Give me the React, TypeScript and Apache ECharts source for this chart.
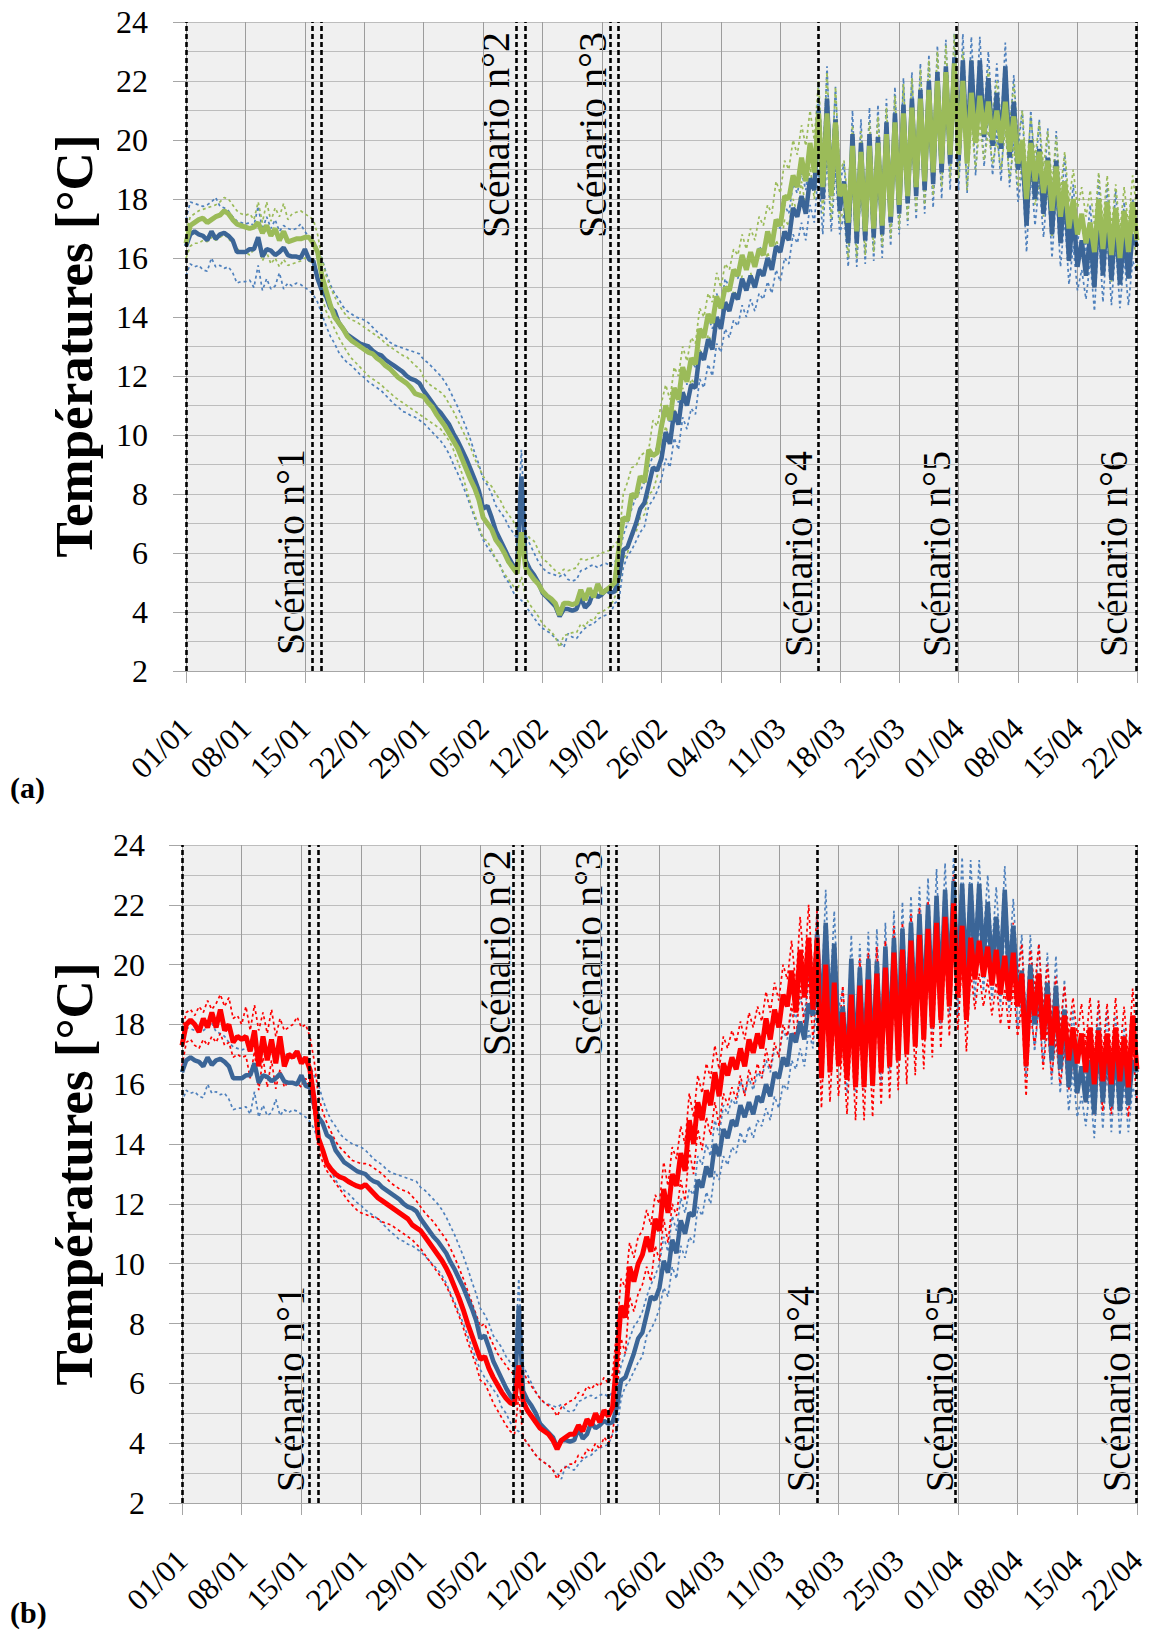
import React, { useEffect, useRef } from 'react';
import * as echarts from 'echarts';

// x axis: days since 01/01 (value axis, one tick per week)
const X_LABELS = ['01/01', '08/01', '15/01', '22/01', '29/01', '05/02', '12/02', '19/02', '26/02', '04/03', '11/03', '18/03', '25/03', '01/04', '08/04', '15/04', '22/04'];
const SCENARIO_DAYS = [0, 14.9, 15.95, 38.9, 39.95, 49.95, 50.95, 74.5, 90.75, 111.9];
const STEP = 0.5; // samples every half day (d = 0, 0.5, ... 112)

// Blue (reference) — mean, upper and lower envelopes (shared by both panels)
const BLUE_MEAN = [
  16.4, 16.8, 16.9, 16.8, 16.75, 16.6, 16.9, 16.65, 16.8, 16.85, 16.75, 16.6, 16.2, 16.2,
  16.2, 16.3, 16.3, 16.7, 16.05, 16.3, 16.25, 16.1, 16.2, 16.35, 16.1, 16.05, 16.05, 16.0,
  16.3, 15.95, 15.9, 15.3, 14.9, 14.7, 14.3, 14.2, 13.8, 13.6, 13.4, 13.3, 13.2, 13.1,
  13.05, 13.0, 12.85, 12.75, 12.7, 12.55, 12.45, 12.35, 12.25, 12.15, 12.0, 11.9, 11.85, 11.75,
  11.5, 11.3, 11.1, 10.9, 10.75, 10.55, 10.35, 10.05, 9.8, 9.5, 9.2, 8.85, 8.5, 8.1,
  7.5, 7.6, 7.2, 6.75, 6.45, 6.15, 5.85, 5.6, 5.4, 8.6, 5.75, 5.45, 5.25, 5.0,
  4.65, 4.5, 4.35, 4.2, 3.85, 4.1, 4.1, 4.05, 4.1, 4.5, 4.15, 4.3, 4.7, 4.5,
  4.6, 4.75, 4.65, 4.7, 5.2, 6.1, 6.2, 6.6, 7.0, 7.5, 7.7, 8.3, 8.9, 8.8,
  9.2, 10.1, 9.7, 10.8, 10.35, 11.45, 11.0, 11.7, 11.6, 12.8, 12.55, 13.25, 12.9, 14.0,
  13.6, 14.5, 14.2, 14.8, 14.6, 15.3, 14.9, 15.4, 15.0, 15.6, 15.4, 16.0, 15.6, 16.4,
  16.2, 16.9, 16.6, 17.7, 17.4, 18.1, 17.5, 18.7, 18.3, 21.0, 18.0, 21.4, 18.1, 20.7,
  17.6, 18.6, 16.5, 20.2, 16.5, 19.9, 16.6, 20.2, 16.7, 20.1, 16.8, 20.6, 17.2, 20.9,
  17.5, 21.2, 17.85, 21.4, 18.1, 21.7, 18.3, 22.0, 18.5, 22.3, 18.9, 22.5, 19.2, 22.8,
  19.3, 22.7, 19.4, 22.7, 19.9, 22.7, 20.1, 22.1, 19.8, 21.6, 19.7, 22.5, 19.4, 21.3,
  19.0, 19.8, 17.1, 20.0, 18.0, 19.7, 17.5, 19.4, 16.8, 19.3, 16.5, 18.5, 15.9, 17.5,
  15.7, 16.6, 15.4, 16.8, 15.0, 17.9, 15.4, 17.6, 15.25, 17.4, 15.1, 16.9, 15.3, 16.8,
  16.4,
];
const BLUE_HIGH = [
  17.3, 17.9, 17.85, 17.8, 17.75, 17.8, 17.9, 18.05, 17.75, 17.7, 17.6, 17.4, 17.25, 17.2,
  17.15, 17.2, 17.1, 17.75, 16.95, 17.4, 17.0, 17.3, 16.9, 17.1, 17.0, 16.95, 17.0, 17.15,
  16.9, 16.7, 16.6, 16.3, 16.0, 15.5, 15.1, 14.8, 14.6, 14.35, 14.2, 14.1, 14.0, 13.95,
  13.9, 13.8, 13.65, 13.5, 13.4, 13.3, 13.15, 13.05, 13.0, 12.95, 12.9, 12.85, 12.8, 12.75,
  12.55, 12.45, 12.3, 12.15, 12.0, 11.8, 11.55, 11.25, 10.95, 10.6, 10.25, 9.85, 9.4, 9.0,
  8.5, 8.3, 8.0, 7.6, 7.4, 7.2, 6.9, 6.7, 6.5, 9.5, 6.6, 6.3, 6.0, 5.7,
  5.5, 5.35, 5.3, 5.25, 5.2, 5.3, 5.1, 5.05, 5.1, 5.4, 5.45, 5.55, 5.6, 5.5,
  5.6, 5.65, 5.55, 5.7, 5.9, 6.6, 7.0, 7.5, 7.9, 8.1, 8.4, 8.9, 9.3, 9.6,
  10.0, 10.9, 10.4, 11.6, 11.1, 12.2, 11.7, 12.5, 12.3, 13.6, 13.3, 14.0, 13.6, 14.8,
  14.3, 15.3, 15.0, 15.5, 15.3, 16.1, 15.7, 16.2, 15.8, 16.4, 16.2, 16.8, 16.4, 17.2,
  17.0, 17.8, 17.5, 18.5, 18.2, 18.9, 18.3, 19.6, 18.9, 21.8, 18.7, 22.5, 18.8, 21.8,
  18.5, 19.2, 17.2, 21.0, 17.2, 20.7, 17.3, 21.1, 17.4, 21.2, 17.6, 21.4, 17.9, 21.8,
  18.2, 22.1, 18.6, 22.3, 18.8, 22.6, 19.0, 22.9, 19.2, 23.2, 19.6, 23.4, 19.9, 23.6,
  20.0, 23.6, 20.1, 23.5, 20.6, 23.5, 20.8, 23.0, 20.5, 22.6, 20.4, 23.3, 20.1, 22.2,
  19.7, 21.0, 18.0, 21.0, 18.7, 20.7, 18.2, 20.4, 17.6, 20.3, 17.3, 19.5, 16.8, 18.5,
  16.5, 17.5, 16.2, 17.8, 15.8, 18.8, 16.1, 18.5, 16.0, 18.3, 15.8, 17.9, 16.0, 18.0,
  17.2,
];
const BLUE_LOW = [
  15.4, 15.8, 15.7, 15.75, 15.6, 15.55, 16.0, 15.7, 15.75, 15.65, 15.7, 15.5, 15.15, 15.2,
  15.2, 15.25, 15.0, 15.75, 14.9, 15.3, 14.95, 15.05, 15.5, 14.95, 15.15, 15.05, 15.15, 15.1,
  15.0, 14.9, 14.75, 14.5, 14.1, 13.7, 13.35, 13.1, 12.8, 12.6, 12.45, 12.35, 12.2, 12.05,
  11.95, 11.8, 11.7, 11.6, 11.5, 11.35, 11.2, 11.05, 10.95, 10.8, 10.75, 10.65, 10.6, 10.5,
  10.4, 10.25, 10.1, 9.95, 9.8, 9.6, 9.35, 9.0, 8.7, 8.35, 8.0, 7.6, 7.2, 6.8,
  6.45, 6.2, 6.0, 5.8, 5.6, 5.2, 5.0, 4.7, 4.45, 4.4, 4.2, 4.0, 3.8, 3.6,
  3.45, 3.35, 3.27, 3.1, 3.0, 2.8, 3.27, 3.15, 3.1, 3.3, 3.45, 3.55, 3.6, 3.75,
  3.84, 3.9, 3.95, 4.3, 4.4, 5.5, 5.9, 6.1, 6.4, 6.7, 6.9, 7.6, 7.8, 8.1,
  8.5, 9.2, 8.9, 9.9, 9.5, 10.6, 10.2, 10.9, 10.7, 11.9, 11.6, 12.4, 12.0, 13.1,
  12.8, 13.6, 13.3, 13.9, 13.7, 14.4, 14.0, 14.6, 14.2, 14.8, 14.6, 15.2, 14.8, 15.6,
  15.2, 16.0, 15.8, 16.8, 16.5, 17.2, 16.6, 17.8, 17.2, 19.0, 16.8, 19.5, 16.9, 19.0,
  16.8, 17.5, 15.7, 18.8, 15.7, 18.6, 15.8, 18.9, 15.9, 19.0, 16.0, 19.5, 16.4, 19.9,
  16.8, 20.2, 17.1, 20.4, 17.3, 20.8, 17.5, 21.0, 17.7, 21.3, 18.0, 21.6, 18.3, 21.9,
  18.3, 21.5, 18.2, 21.6, 18.8, 21.6, 19.1, 21.0, 18.8, 20.4, 18.6, 21.3, 18.4, 20.1,
  17.9, 19.0, 16.2, 19.0, 17.1, 18.6, 16.7, 18.5, 16.0, 18.2, 15.7, 17.4, 15.1, 16.4,
  14.9, 15.6, 14.6, 15.9, 14.2, 16.9, 14.5, 16.7, 14.4, 16.5, 14.3, 16.0, 14.4, 15.9,
  15.5,
];

// Green (panel a)
const GREEN_MEAN = [
  16.5, 17.1, 17.2, 17.3, 17.35, 17.2, 17.3, 17.4, 17.45, 17.6, 17.5, 17.3, 17.15, 17.1,
  17.05, 17.0, 17.05, 17.2, 16.85, 17.1, 16.75, 17.0, 16.6, 16.9, 16.55, 16.6, 16.65, 16.65,
  16.7, 16.7, 16.5, 16.2, 15.4, 14.9, 14.4, 14.0, 13.8, 13.6, 13.35, 13.2, 13.1, 13.0,
  12.9, 12.8, 12.75, 12.6, 12.5, 12.35, 12.25, 12.1, 11.95, 11.85, 11.75, 11.6, 11.4, 11.35,
  11.3, 11.1, 10.95, 10.7, 10.5, 10.3, 10.05, 9.8, 9.55, 9.2, 8.85, 8.5, 8.2, 7.8,
  7.2, 7.0, 6.8, 6.44, 6.25, 6.0, 5.7, 5.5, 5.3, 6.7, 5.5, 5.3, 5.1, 4.95,
  4.7, 4.55, 4.45, 4.3, 3.9, 4.3, 4.3, 4.25, 4.3, 4.75, 4.4, 4.8, 4.5, 4.95,
  4.63, 4.75, 4.86, 5.0, 6.2, 7.2, 7.1, 8.0, 7.9, 8.6, 8.4, 9.5, 9.3, 9.4,
  10.3, 11.0, 10.5, 11.6, 11.2, 12.3, 11.8, 12.6, 12.4, 13.6, 13.3, 14.1, 13.8, 14.7,
  14.3, 15.0, 14.9, 15.6, 15.4, 16.1, 15.6, 16.2, 15.7, 16.3, 16.1, 16.9, 16.4, 17.3,
  17.1, 18.1, 18.0, 18.8, 18.4, 19.4, 18.6, 19.9, 18.9, 20.9, 18.4, 20.9, 18.1, 20.6,
  18.1, 18.5, 17.2, 19.8, 16.9, 19.6, 16.9, 19.8, 17.0, 19.9, 17.1, 20.2, 17.4, 20.6,
  17.8, 20.9, 18.1, 21.1, 18.4, 21.4, 18.6, 21.7, 18.9, 22.0, 19.2, 22.3, 19.5, 22.6,
  19.5, 22.0, 19.2, 21.6, 19.9, 21.5, 20.2, 21.3, 20.0, 21.0, 19.9, 21.3, 19.6, 20.8,
  19.2, 20.0, 18.0, 19.9, 18.6, 19.6, 18.2, 19.3, 17.6, 19.1, 17.4, 18.6, 17.0, 18.0,
  16.8, 17.5, 16.5, 17.2, 16.2, 18.0, 16.3, 17.9, 16.1, 17.7, 16.0, 17.6, 16.2, 17.9,
  16.6,
];
const GREEN_HIGH = [
  16.9, 17.4, 17.5, 17.6, 17.65, 17.7, 17.75, 17.8, 17.9, 18.05, 18.0, 17.8, 17.6, 17.5,
  17.45, 17.5, 17.3, 17.9, 17.2, 17.9, 17.25, 17.7, 17.4, 17.85, 17.3, 17.5, 17.55, 17.6,
  17.5, 17.4, 17.3, 16.8, 16.0, 15.4, 15.0, 14.7, 14.4, 14.2, 14.0, 13.9, 13.85, 13.75,
  13.65, 13.55, 13.45, 13.35, 13.25, 13.1, 13.0, 12.9, 12.8, 12.7, 12.65, 12.5, 12.35, 12.25,
  11.95, 11.75, 11.65, 11.55, 11.45, 11.3, 11.05, 10.8, 10.5, 10.2, 9.9, 9.6, 9.2, 8.9,
  8.6, 8.4, 8.26, 8.0, 7.8, 7.5, 7.3, 7.1, 6.8, 7.4, 6.7, 6.5, 6.4, 6.1,
  5.8, 5.7, 5.55, 5.4, 5.3, 5.45, 5.4, 5.45, 5.5, 5.8, 5.75, 5.8, 5.85, 5.9,
  6.0, 6.05, 6.1, 6.3, 6.44, 8.0, 8.4, 8.9, 8.95, 9.3, 9.4, 9.5, 10.5, 10.3,
  11.1, 11.7, 11.2, 12.3, 12.0, 13.0, 12.5, 13.3, 13.1, 14.3, 14.0, 14.8, 14.5, 15.5,
  15.0, 15.8, 15.6, 16.3, 16.1, 16.8, 16.3, 17.0, 16.6, 17.4, 17.1, 17.8, 17.5, 18.6,
  18.2, 19.3, 19.0, 20.0, 19.5, 20.5, 19.8, 21.0, 20.0, 22.0, 19.3, 22.3, 19.0, 21.8,
  18.9, 19.3, 17.8, 20.5, 17.7, 20.3, 17.7, 20.6, 17.8, 20.8, 17.9, 21.1, 18.2, 21.5,
  18.6, 21.9, 18.9, 22.1, 19.2, 22.4, 19.4, 22.7, 19.7, 23.0, 20.0, 23.2, 20.3, 23.6,
  20.3, 23.0, 20.1, 22.7, 20.7, 22.5, 20.9, 22.4, 20.8, 22.0, 20.7, 22.3, 20.4, 21.9,
  20.0, 21.0, 18.9, 20.8, 19.4, 20.6, 19.1, 20.3, 18.5, 20.1, 18.3, 19.6, 17.9, 19.0,
  17.7, 18.4, 17.4, 18.3, 17.1, 18.9, 17.2, 18.8, 17.0, 18.5, 16.9, 18.4, 17.1, 18.8,
  17.6,
];
const GREEN_LOW = [
  16.0, 16.4, 16.5, 16.5, 16.6, 16.55, 16.7, 16.6, 16.7, 16.8, 16.65, 16.5, 16.3, 16.25,
  16.2, 16.1, 16.3, 16.5, 15.9, 16.2, 15.8, 16.0, 15.7, 15.95, 15.75, 15.8, 15.85, 15.9,
  16.0, 15.9, 15.8, 15.5, 14.7, 14.2, 13.9, 13.6, 13.3, 13.05, 12.8, 12.6, 12.45, 12.3,
  12.15, 12.0, 11.9, 11.8, 11.7, 11.55, 11.45, 11.3, 11.2, 11.1, 11.0, 10.9, 10.8, 10.7,
  10.6, 10.5, 10.4, 10.3, 10.2, 10.0, 9.8, 9.5, 9.1, 8.7, 8.2, 7.7, 7.3, 6.9,
  6.5, 6.4, 6.1, 5.8, 5.55, 5.3, 5.1, 4.9, 4.7, 5.2, 4.5, 4.25, 4.05, 3.85,
  3.6, 3.45, 3.35, 3.15, 2.8, 3.2, 3.25, 3.3, 3.3, 3.6, 3.5, 3.75, 3.7, 3.95,
  4.0, 4.1, 4.2, 4.5, 4.9, 5.8, 6.0, 6.6, 6.7, 7.2, 7.3, 8.0, 8.1, 8.6,
  9.6, 10.3, 9.8, 10.9, 10.5, 11.6, 11.1, 11.9, 11.7, 12.9, 12.6, 13.4, 13.1, 14.0,
  13.6, 14.3, 14.2, 14.9, 14.7, 15.4, 14.9, 15.5, 15.0, 15.6, 15.4, 16.2, 15.7, 16.6,
  16.3, 17.3, 17.1, 18.0, 17.5, 18.6, 17.7, 19.1, 18.0, 19.9, 17.5, 20.0, 17.3, 19.6,
  17.2, 17.7, 16.0, 19.1, 16.0, 18.9, 16.1, 19.1, 16.2, 19.2, 16.4, 19.5, 16.7, 19.9,
  17.0, 20.1, 17.3, 20.3, 17.6, 20.6, 17.8, 20.9, 18.1, 21.1, 18.4, 21.4, 18.7, 21.7,
  18.7, 21.2, 18.3, 20.6, 19.0, 20.5, 19.3, 20.3, 19.2, 20.0, 19.0, 20.3, 18.7, 19.8,
  18.4, 19.2, 17.2, 19.0, 17.8, 18.6, 17.4, 18.3, 16.7, 18.1, 16.5, 17.6, 16.1, 17.0,
  16.0, 16.6, 15.6, 16.2, 15.3, 17.1, 15.4, 17.0, 15.2, 16.8, 15.1, 16.7, 15.3, 17.0,
  15.7,
];

// Red (panel b)
const RED_MEAN = [
  17.3, 18.0, 18.15, 18.0, 17.75, 18.2, 17.9, 18.4, 17.9, 18.5, 17.8, 18.0, 17.4, 17.6,
  17.5, 17.6, 17.1, 17.8, 16.6, 17.6, 16.8, 17.5, 16.7, 17.6, 16.6, 17.0, 16.9, 17.1,
  16.7, 16.9, 16.5, 15.5, 14.2, 13.8, 13.35, 13.15, 13.0, 12.9, 12.85, 12.75, 12.67, 12.6,
  12.55, 12.65, 12.5, 12.35, 12.2, 12.1, 12.0, 11.9, 11.8, 11.7, 11.6, 11.5, 11.3, 11.2,
  11.1, 10.9, 10.7, 10.5, 10.3, 10.1, 9.85, 9.55, 9.2, 8.85, 8.45, 8.0, 7.6, 7.2,
  6.8, 6.9, 6.5, 6.2, 5.95, 5.7, 5.5, 5.35, 5.3, 6.6, 5.4, 5.1, 4.9, 4.7,
  4.5, 4.4, 4.3, 4.1, 3.8, 4.1, 4.2, 4.3, 4.3, 4.6, 4.4, 4.8, 4.6, 5.0,
  4.7, 5.1, 4.9, 5.2, 6.8, 8.6, 8.2, 9.9, 9.4, 10.0, 10.3, 10.9, 10.4, 11.5,
  11.1, 12.5, 11.7, 13.0, 12.6, 13.7, 13.1, 14.8, 14.0, 15.4, 14.8, 15.8, 15.3, 16.4,
  15.6, 16.7, 16.3, 16.9, 16.5, 17.2, 16.6, 17.5, 17.05, 17.7, 17.2, 18.2, 17.5, 18.5,
  17.9, 19.0, 18.6, 19.8, 18.4, 20.5, 18.9, 20.9, 18.5, 20.9, 16.2, 20.0, 16.4, 19.4,
  16.6, 18.4, 16.15, 19.0, 15.9, 19.3, 15.9, 19.5, 15.95, 19.7, 16.4, 19.9, 16.6, 20.4,
  16.8, 20.5, 17.0, 20.8, 17.26, 21.0, 17.5, 21.2, 17.9, 21.4, 18.15, 21.6, 18.6, 22.05,
  18.9, 21.3, 18.15, 20.9, 19.5, 20.8, 19.6, 20.6, 19.3, 20.5, 19.0, 20.3, 18.8, 20.4,
  18.6, 19.7, 16.6, 19.5, 18.3, 19.7, 17.5, 19.0, 17.3, 18.6, 17.0, 18.3, 16.8, 17.9,
  16.7, 17.7, 16.4, 17.9, 16.0, 17.8, 16.1, 17.7, 16.0, 17.9, 16.1, 17.6, 15.9, 18.3,
  16.5,
];
const RED_HIGH = [
  17.8, 18.4, 18.5, 18.3, 18.6, 18.4, 18.8, 18.5, 18.7, 19.0, 18.6, 18.9, 18.2, 18.3,
  18.0, 18.6, 17.8, 18.65, 17.8, 18.4, 17.7, 18.5, 17.6, 18.2, 17.8, 17.9, 18.0, 18.25,
  17.9, 18.0, 17.6, 16.8, 15.6, 15.1, 14.7, 14.4, 14.1, 13.9, 13.75, 13.6, 13.45, 13.4,
  13.35, 13.35, 13.3, 13.2, 13.1, 13.0, 12.85, 12.7, 12.6, 12.5, 12.45, 12.4, 12.25, 12.1,
  11.9, 11.7, 11.55, 11.4, 11.2, 11.0, 10.8, 10.5, 10.2, 9.85, 9.5, 9.1, 8.7, 8.3,
  7.9, 8.0, 7.6, 7.3, 7.0, 6.8, 6.6, 6.4, 6.3, 7.5, 6.4, 6.1, 5.9, 5.7,
  5.5, 5.35, 5.25, 5.15, 4.9, 5.2, 5.3, 5.4, 5.45, 5.7, 5.6, 5.9, 5.8, 6.0,
  5.9, 6.2, 6.0, 6.3, 7.8, 9.5, 9.2, 10.7, 10.2, 10.9, 11.1, 11.8, 11.3, 12.3,
  12.0, 13.4, 12.6, 13.9, 13.5, 14.6, 14.0, 15.7, 14.9, 16.3, 15.7, 16.7, 16.2, 17.3,
  16.5, 17.6, 17.2, 17.8, 17.4, 18.1, 17.5, 18.4, 17.9, 18.6, 18.1, 19.1, 18.4, 19.4,
  18.8, 20.0, 19.5, 20.8, 19.3, 21.6, 19.8, 22.0, 19.4, 21.9, 17.2, 21.0, 17.3, 20.4,
  17.5, 19.3, 17.0, 19.9, 16.8, 20.2, 16.8, 20.4, 16.9, 20.6, 17.3, 20.8, 17.5, 21.3,
  17.7, 21.4, 17.9, 21.7, 18.1, 21.9, 18.4, 22.1, 18.8, 22.3, 19.1, 22.5, 19.5, 23.0,
  19.8, 22.3, 19.1, 21.9, 20.4, 21.8, 20.5, 21.6, 20.2, 21.5, 19.9, 21.3, 19.7, 21.4,
  19.5, 20.7, 17.6, 20.5, 19.2, 20.7, 18.4, 20.0, 18.2, 19.6, 17.9, 19.3, 17.7, 18.9,
  17.6, 18.7, 17.3, 18.9, 16.9, 18.8, 17.0, 18.7, 16.9, 18.9, 17.0, 18.6, 16.8, 19.2,
  17.4,
];
const RED_LOW = [
  16.6, 17.4, 17.5, 17.3, 17.2, 17.5, 17.3, 17.6, 17.4, 17.7, 17.3, 17.4, 16.9, 17.0,
  16.9, 16.95, 16.2, 17.1, 15.8, 16.9, 15.9, 16.8, 15.85, 16.5, 15.9, 16.1, 16.0, 16.05,
  15.9, 16.2, 15.8, 15.0, 13.8, 13.4, 13.1, 12.9, 12.7, 12.5, 12.3, 12.1, 11.95, 11.8,
  11.7, 11.65, 11.6, 11.55, 11.5, 11.4, 11.35, 11.3, 11.2, 11.1, 11.0, 10.9, 10.8, 10.65,
  10.5, 10.3, 10.1, 9.9, 9.7, 9.5, 9.25, 8.95, 8.6, 8.25, 7.85, 7.4, 7.0, 6.6,
  6.1, 6.0, 5.7, 5.35, 5.1, 4.85, 4.6, 4.4, 4.3, 5.6, 4.2, 4.0, 3.8, 3.6,
  3.45, 3.35, 3.25, 3.1, 2.8, 3.1, 3.2, 3.3, 3.3, 3.6, 3.5, 3.8, 3.7, 4.0,
  3.8, 4.2, 4.0, 4.3, 5.6, 7.5, 7.0, 8.9, 8.4, 9.0, 9.3, 9.9, 9.4, 10.6,
  10.1, 11.5, 10.7, 12.0, 11.6, 12.8, 12.1, 13.8, 13.0, 14.5, 13.8, 14.9, 14.3, 15.4,
  14.6, 15.7, 15.3, 15.9, 15.5, 16.3, 15.6, 16.5, 16.0, 16.7, 16.2, 17.2, 16.5, 17.4,
  16.9, 18.0, 17.6, 18.7, 17.4, 19.3, 17.9, 19.6, 17.5, 19.5, 15.2, 18.8, 15.4, 18.3,
  15.6, 17.3, 15.0, 17.8, 14.8, 18.1, 14.8, 18.4, 14.9, 18.6, 15.3, 18.8, 15.5, 19.3,
  15.8, 19.4, 16.0, 19.7, 16.3, 19.9, 16.5, 20.1, 16.9, 20.3, 17.2, 20.5, 17.6, 20.9,
  17.8, 20.2, 17.1, 19.8, 18.5, 19.7, 18.6, 19.5, 18.3, 19.4, 18.0, 19.2, 17.8, 19.3,
  17.6, 18.6, 15.6, 18.4, 17.3, 18.6, 16.5, 17.9, 16.3, 17.5, 16.0, 17.2, 15.8, 16.8,
  15.7, 16.6, 15.4, 16.8, 15.0, 16.7, 15.1, 16.6, 15.0, 16.8, 15.1, 16.5, 14.9, 17.2,
  15.5,
];

const C_BLUE_MAIN = '#3b6597';
const C_BLUE_DOT = '#4f81bd';
const C_GREEN = '#9bbb59';
const C_RED = '#ff0000';
const FONT = 'Liberation Serif';

function toXY(arr: number[]) {
  return arr.map((v, i) => [i * STEP, v]);
}

function line(data: number[], idx: number, color: string, width: number, dotted: boolean, z: number) {
  return {
    type: 'line',
    xAxisIndex: idx,
    yAxisIndex: idx,
    data: toXY(data),
    showSymbol: false,
    symbol: 'none',
    silent: true,
    z,
    lineStyle: { color, width, type: dotted ? [3, 3] : 'solid' },
  };
}

function scenarioSeries(idx: number) {
  return {
    type: 'line',
    xAxisIndex: idx,
    yAxisIndex: idx,
    data: [],
    z: 10,
    silent: true,
    markLine: {
      silent: true,
      symbol: ['none', 'none'],
      label: { show: false },
      lineStyle: { color: '#000', type: [5, 3], width: 2.6 },
      data: SCENARIO_DAYS.map((d) => ({ xAxis: d })),
    },
  };
}

function xAxis(idx: number) {
  return {
    type: 'value',
    gridIndex: idx,
    min: 0,
    max: 112,
    interval: 7,
    axisLine: { show: true, lineStyle: { color: '#a6a6a6', width: 1 } },
    axisTick: { show: true, length: 12, lineStyle: { color: '#a6a6a6', width: 1 } },
    axisLabel: {
      rotate: 45,
      margin: 52,
      fontSize: 31,
      fontFamily: FONT,
      color: '#000',
      formatter: (v: number) => X_LABELS[Math.round(v / 7)] ?? '',
    },
    splitLine: { show: true, lineStyle: { color: '#9c9c9c', width: 1 } },
  };
}

function yAxis(idx: number, margin: number) {
  return {
    type: 'value',
    gridIndex: idx,
    min: 2,
    max: 24,
    interval: 2,
    axisLine: { show: false },
    axisTick: { show: true, length: 13, lineStyle: { color: '#a6a6a6', width: 1 } },
    axisLabel: { margin, fontSize: 32, fontFamily: FONT, color: '#000' },
    splitLine: { show: true, lineStyle: { color: '#bdbdbd', width: 1 } },
    minorTick: { show: false, splitNumber: 2 },
    minorSplitLine: { show: true, lineStyle: { color: '#bdbdbd', width: 1 } },
  };
}

function vText(text: string, x: number, y: number, align: string, size: number, weight: string) {
  return {
    type: 'text',
    x,
    y,
    rotation: Math.PI / 2,
    silent: true,
    style: {
      text,
      fill: '#000',
      fontSize: size,
      fontFamily: FONT,
      fontWeight: weight,
      textAlign: align,
      textVerticalAlign: 'middle',
    },
  };
}

function hText(text: string, x: number, y: number) {
  return {
    type: 'text',
    x,
    y,
    silent: true,
    style: { text, fill: '#000', fontSize: 30, fontFamily: FONT, fontWeight: 'bold', textAlign: 'left', textVerticalAlign: 'middle' },
  };
}

export default function App() {
  const ref = useRef<HTMLDivElement>(null);
  useEffect(() => {
    if (!ref.current) return;
    const chart = echarts.init(ref.current, undefined, { renderer: 'svg' });
    const scen = 'Scénario n°';
    const option = {
      animation: false,
      backgroundColor: '#ffffff',
      grid: [
        { left: 186, top: 22, width: 951, height: 649, show: true, backgroundColor: '#f0f0f0', borderWidth: 0 },
        { left: 182, top: 845, width: 957, height: 658, show: true, backgroundColor: '#f0f0f0', borderWidth: 0 },
      ],
      xAxis: [xAxis(0), xAxis(1)],
      yAxis: [yAxis(0, 38), yAxis(1, 37)],
      series: [
        line(BLUE_HIGH, 0, C_BLUE_DOT, 1.7, true, 2),
        line(BLUE_LOW, 0, C_BLUE_DOT, 1.7, true, 2),
        line(GREEN_HIGH, 0, C_GREEN, 1.7, true, 2),
        line(GREEN_LOW, 0, C_GREEN, 1.7, true, 2),
        line(BLUE_MEAN, 0, C_BLUE_MAIN, 4.5, false, 3),
        line(GREEN_MEAN, 0, C_GREEN, 5, false, 4),
        scenarioSeries(0),
        line(BLUE_HIGH, 1, C_BLUE_DOT, 1.7, true, 2),
        line(BLUE_LOW, 1, C_BLUE_DOT, 1.7, true, 2),
        line(RED_HIGH, 1, C_RED, 1.7, true, 2),
        line(RED_LOW, 1, C_RED, 1.7, true, 2),
        line(BLUE_MEAN, 1, C_BLUE_MAIN, 4.5, false, 3),
        line(RED_MEAN, 1, C_RED, 5, false, 4),
        scenarioSeries(1),
      ],
      graphic: [
        vText('Températures [°C]', 74, 346, 'center', 53, 'bold'),
        vText('Températures [°C]', 74, 1174, 'center', 53, 'bold'),
        vText(scen + '1', 290, 655, 'left', 40, 'normal'),
        vText(scen + '2', 495, 32, 'right', 40, 'normal'),
        vText(scen + '3', 592, 32, 'right', 40, 'normal'),
        vText(scen + '4', 798, 657, 'left', 40, 'normal'),
        vText(scen + '5', 936, 657, 'left', 40, 'normal'),
        vText(scen + '6', 1113, 657, 'left', 40, 'normal'),
        vText(scen + '1', 290, 1492, 'left', 40, 'normal'),
        vText(scen + '2', 496, 850, 'right', 40, 'normal'),
        vText(scen + '3', 588, 850, 'right', 40, 'normal'),
        vText(scen + '4', 800, 1492, 'left', 40, 'normal'),
        vText(scen + '5', 939, 1492, 'left', 40, 'normal'),
        vText(scen + '6', 1116, 1492, 'left', 40, 'normal'),
        hText('(a)', 10, 787),
        hText('(b)', 10, 1612),
      ],
    };
    chart.setOption(option as any);
    return () => chart.dispose();
  }, []);
  return <div ref={ref} style={{ position: 'absolute', left: 0, top: 0, width: 1150, height: 1632 }} />;
}
